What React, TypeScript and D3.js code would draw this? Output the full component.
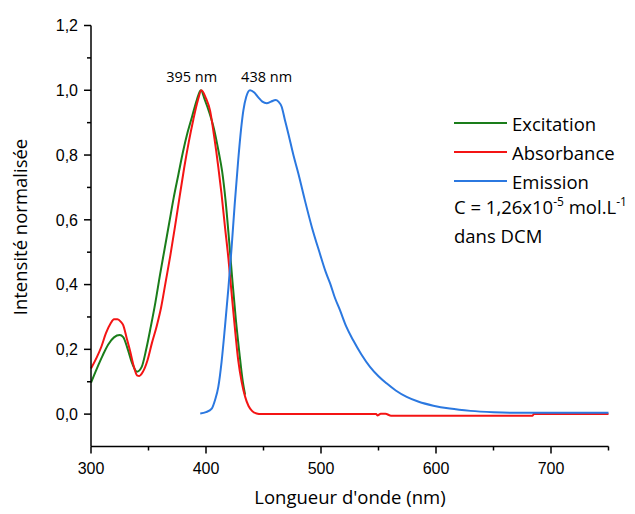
import React from "react";
import * as d3 from "d3";

const excitationNm = [300, 305, 310, 315, 320, 325, 328, 332, 336, 340, 344, 348, 352, 356, 360, 364, 368, 372, 376, 380, 384, 388, 392, 395.5, 399, 403, 407, 411, 414, 417, 420, 423, 426, 429, 432, 434];
const excitationVal = [0.097, 0.14, 0.18, 0.215, 0.237, 0.244, 0.238, 0.2, 0.155, 0.131, 0.145, 0.2, 0.27, 0.345, 0.43, 0.51, 0.59, 0.67, 0.74, 0.81, 0.87, 0.92, 0.97, 1.0, 0.97, 0.93, 0.88, 0.81, 0.75, 0.66, 0.54, 0.41, 0.29, 0.19, 0.1, 0.06];

const absorbanceNm = [300, 305, 309, 313, 317, 320, 323, 326, 328, 331, 334, 337, 340, 342, 345, 349, 353, 357, 361, 365, 369, 373, 377, 381, 385, 389, 393, 396, 400, 403.5, 407, 410.7, 413.5, 416.5, 419.5, 422.3, 425, 428, 431, 434, 437, 440, 444, 448, 548, 549, 552, 556, 561, 684, 685, 750];
const absorbanceVal = [0.141, 0.175, 0.208, 0.25, 0.28, 0.293, 0.293, 0.285, 0.275, 0.235, 0.195, 0.15, 0.12, 0.118, 0.13, 0.165, 0.22, 0.27, 0.33, 0.41, 0.49, 0.578, 0.67, 0.76, 0.84, 0.91, 0.97, 1.0, 0.975, 0.938, 0.86, 0.763, 0.68, 0.578, 0.48, 0.372, 0.27, 0.167, 0.1, 0.054, 0.025, 0.01, 0.002, 0, 0, -0.004, 0.001, 0.001, -0.005, -0.005, 0, 0];

const emissionNm = [395, 400, 405, 408, 410.7, 413.5, 416.5, 419.5, 422.3, 425, 428, 430.5, 432.5, 435, 438.3, 442, 445.5, 449, 452.8, 456.5, 460.6, 463, 465.8, 468.5, 471.6, 476, 480.3, 486, 492, 499, 504, 508, 512, 516.5, 522, 528, 535, 542.6, 550, 557, 565, 574.5, 585, 597.7, 612, 630, 650, 673, 700, 750];
const emissionVal = [0.002, 0.006, 0.017, 0.045, 0.084, 0.16, 0.27, 0.39, 0.516, 0.65, 0.784, 0.88, 0.938, 0.98, 1.0, 0.993, 0.978, 0.965, 0.96, 0.965, 0.97, 0.965, 0.949, 0.91, 0.866, 0.8, 0.743, 0.66, 0.578, 0.496, 0.44, 0.403, 0.36, 0.321, 0.27, 0.228, 0.185, 0.146, 0.117, 0.095, 0.073, 0.053, 0.038, 0.026, 0.017, 0.01, 0.006, 0.004, 0.004, 0.004];

const seriesNames = ["Excitation", "Absorbance", "Emission"];
const seriesColors = ["#1a7d1a", "#f41414", "#2b78e0"];

const xMajorTicks = [300, 400, 500, 600, 700];
const xMinorTicks = [350, 450, 550, 650, 750];
const yMajorTicks = [0, 0.2, 0.4, 0.6, 0.8, 1.0, 1.2];
const yMinorTicks = [0.1, 0.3, 0.5, 0.7, 0.9, 1.1];

// peak labels: text and the wavelength (axis units) at which the label is centred
const peakLabelText = ["395 nm", "438 nm"];
const peakLabelAt = [387.5, 452.7];

const W = 635;
const H = 514;
const LEFT = 91;
const RIGHT = 608.5;
const TOP = 25.5;
const BOTTOM = 446.5;

const TEXT_FONT = "'Open Sans', Lato, sans-serif";
const TICK_FONT = "'Liberation Sans', Arial, sans-serif";

export default function App() {
  const x = d3.scaleLinear().domain([300, 750]).range([LEFT, RIGHT]);
  const y = d3.scaleLinear().domain([-0.1, 1.2]).range([BOTTOM, TOP]);

  const line = d3
    .line<[number, number]>()
    .x((d) => x(d[0]))
    .y((d) => y(d[1]))
    .curve(d3.curveMonotoneX);

  const series = [
    excitationNm.map((n, i) => [n, excitationVal[i]] as [number, number]),
    absorbanceNm.map((n, i) => [n, absorbanceVal[i]] as [number, number]),
    emissionNm.map((n, i) => [n, emissionVal[i]] as [number, number]),
  ];

  const fmt = (v: number) => v.toFixed(1).replace(".", ",");

  const legendX = 454;
  const legendY0 = 123;
  const legendStep = 29;

  return (
    <svg
      width={W}
      height={H}
      style={{ position: "absolute", left: 0, top: 0, background: "#fff" }}
    >
      {series.map((s, i) => (
        <path
          key={i}
          d={line(s) || ""}
          fill="none"
          stroke={seriesColors[i]}
          strokeWidth={2}
          strokeLinejoin="round"
        />
      ))}

      <line x1={LEFT} x2={LEFT} y1={TOP} y2={BOTTOM} stroke="#000" strokeWidth={1.5} />
      <line x1={LEFT} x2={RIGHT} y1={BOTTOM} y2={BOTTOM} stroke="#000" strokeWidth={1.5} />

      {yMajorTicks.map((t) => (
        <g key={"ym" + t}>
          <line x1={LEFT - 7} x2={LEFT} y1={y(t)} y2={y(t)} stroke="#000" strokeWidth={1.5} />
          <text
            x={LEFT - 13}
            y={y(t)}
            dy="0.36em"
            textAnchor="end"
            fontFamily={TICK_FONT}
            fontSize={16}
            fill="#000"
          >
            {fmt(t)}
          </text>
        </g>
      ))}
      {yMinorTicks.map((t) => (
        <line key={"yn" + t} x1={LEFT - 4} x2={LEFT} y1={y(t)} y2={y(t)} stroke="#000" strokeWidth={1.5} />
      ))}
      {xMajorTicks.map((t) => (
        <g key={"xm" + t}>
          <line x1={x(t)} x2={x(t)} y1={BOTTOM} y2={BOTTOM + 7} stroke="#000" strokeWidth={1.5} />
          <text
            x={x(t)}
            y={473.5}
            textAnchor="middle"
            fontFamily={TICK_FONT}
            fontSize={16}
            fill="#000"
          >
            {t}
          </text>
        </g>
      ))}
      {xMinorTicks.map((t) => (
        <line key={"xn" + t} x1={x(t)} x2={x(t)} y1={BOTTOM} y2={BOTTOM + 4} stroke="#000" strokeWidth={1.5} />
      ))}

      <text
        x={350}
        y={504}
        textAnchor="middle"
        fontFamily={TEXT_FONT}
        fontSize={18.5}
        fill="#000"
      >
        Longueur d'onde (nm)
      </text>
      <text
        transform={`translate(27,227) rotate(-90)`}
        textAnchor="middle"
        fontFamily={TEXT_FONT}
        fontSize={18.5}
        fill="#000"
      >
        Intensité normalisée
      </text>

      {peakLabelText.map((t, i) => (
        <text
          key={t}
          x={x(peakLabelAt[i])}
          y={82}
          textAnchor="middle"
          fontFamily={TEXT_FONT}
          fontSize={14.5}
          fill="#000"
        >
          {t}
        </text>
      ))}

      {seriesNames.map((n, i) => (
        <g key={n}>
          <line
            x1={legendX}
            x2={legendX + 53}
            y1={legendY0 + i * legendStep}
            y2={legendY0 + i * legendStep}
            stroke={seriesColors[i]}
            strokeWidth={2}
          />
          <text
            x={legendX + 58}
            y={legendY0 + i * legendStep + 7.5}
            fontFamily={TEXT_FONT}
            fontSize={18.5}
            fill="#000"
          >
            {n}
          </text>
        </g>
      ))}
      <text x={legendX} y={213.5} fontFamily={TEXT_FONT} fontSize={18.5} fill="#000">
        C = 1,26x10
        <tspan fontSize={12} dy={-8}>-5</tspan>
        <tspan dy={8}> mol.L</tspan>
        <tspan fontSize={12} dy={-8}>-1</tspan>
      </text>
      <text x={legendX} y={242.5} fontFamily={TEXT_FONT} fontSize={18.5} fill="#000">
        dans DCM
      </text>
    </svg>
  );
}
